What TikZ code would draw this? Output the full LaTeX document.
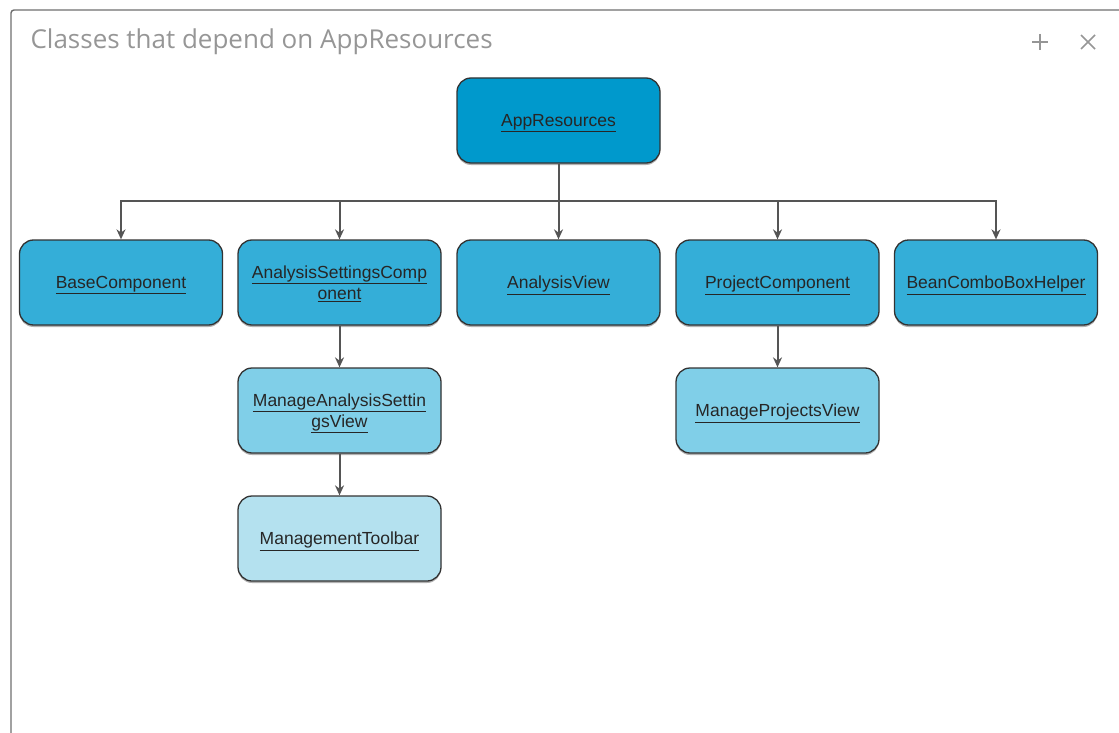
\documentclass[tikz,border=0pt]{standalone}
\usepackage{fontspec}
\setmainfont{Liberation Sans}
\newfontfamily\titlefont{Open Sans}
\usetikzlibrary{arrows.meta,shadows}

\definecolor{rootblue}{RGB}{0,153,204}
\definecolor{levelone}{RGB}{52,174,216}
\definecolor{leveltwo}{RGB}{128,207,232}
\definecolor{levelthree}{RGB}{180,225,239}
\definecolor{framegray}{RGB}{110,110,110}
\definecolor{titlegray}{RGB}{150,150,150}
\definecolor{linkgray}{RGB}{85,85,85}

\tikzset{
    classbox/.style={draw=black!80, line width=1.3pt, rounded corners=14pt,
        minimum width=203pt, minimum height=85pt, inner sep=0pt, align=center,
        font=\fontsize{17.5}{21}\selectfont, text=black!85, text depth=0pt,
        drop shadow={shadow xshift=0pt, shadow yshift=-2pt, fill=black, opacity=0.3}},
    dep/.style={draw=linkgray, line width=2pt, -{Stealth[length=10pt,width=9pt]}}
}

\begin{document}
\begin{tikzpicture}[x=1pt, y=-1pt]
        \useasboundingbox (0,0) rectangle (1119,733);

        % okno
        \draw[framegray, line width=1.4pt] (11,733) -- (11,13) arc (180:270:3) -- (1119,10);
        \node[anchor=west, text=titlegray, font=\titlefont\fontsize{26}{31}\selectfont] (title) at (27,42) {Classes that depend on AppResources};
        \draw[titlegray, line width=1.5pt] (1032,42) -- (1048,42) (1040,34) -- (1040,50);
        \draw[titlegray, line width=1.5pt] (1081,35) -- (1095,49) (1081,49) -- (1095,35);

        % tridy
        \node[classbox, fill=rootblue] (app) at (558.5,120.5) {\underline{AppResources}};

        \node[classbox, fill=levelone] (base) at (121,282.5) {\underline{BaseComponent}};
        \node[classbox, fill=levelone] (asc) at (339.5,282.5) {\underline{AnalysisSettingsComp}\\\underline{onent}};
        \node[classbox, fill=levelone] (aview) at (558.5,282.5) {\underline{AnalysisView}};
        \node[classbox, fill=levelone] (pc) at (777.5,282.5) {\underline{ProjectComponent}};
        \node[classbox, fill=levelone] (bean) at (996,282.5) {\underline{BeanComboBoxHelper}};

        \node[classbox, fill=leveltwo] (masv) at (339.5,410.5) {\underline{ManageAnalysisSettin}\\\underline{gsView}};
        \node[classbox, fill=leveltwo] (mpv) at (777.5,410.5) {\underline{ManageProjectsView}};

        \node[classbox, fill=levelthree] (mt) at (339.5,538.5) {\underline{ManagementToolbar}};

        % zavislosti
        \foreach \n in {base,asc,pc,bean}
            \draw[dep] (app.south) -- ++(0,37) -| (\n.north);
        \draw[dep] (app) -- (aview);
        \draw[dep] (asc) -- (masv);
        \draw[dep] (masv) -- (mt);
        \draw[dep] (pc) -- (mpv);

    \end{tikzpicture}
\end{document}
